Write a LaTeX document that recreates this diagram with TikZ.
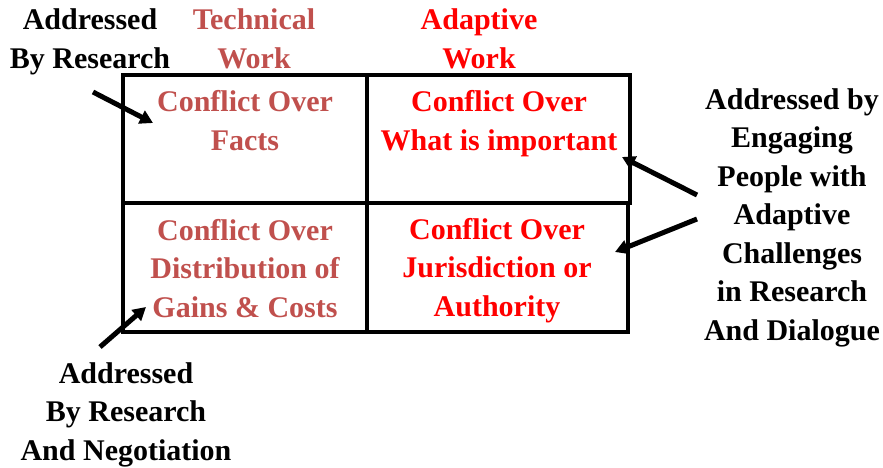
\documentclass[tikz,border=0pt]{standalone}
\usepackage{fontspec}
\setmainfont{Liberation Serif}
\usetikzlibrary{arrows.meta}
\definecolor{techred}{RGB}{192,80,77}
\definecolor{adapred}{RGB}{255,0,0}
\begin{document}
\begin{tikzpicture}[x=1pt,y=-1pt,
  lbl/.style={align=center, font=\bfseries\fontsize{30}{38.5}\selectfont, inner sep=0pt, anchor=base},
  tech/.style={lbl, text=techred},
  adap/.style={lbl, text=adapred},
  gridline/.style={line width=4pt},
  pointer/.style={line width=5pt, -{Triangle[length=13pt,width=14pt]}}]
\useasboundingbox (0,0) rectangle (883,467);
% grid
\draw[gridline] (123,75) rectangle (367,203);
\draw[gridline] (367,75) rectangle (630,203);
\draw[gridline] (123,203) rectangle (367,332);
\draw[gridline] (367,203) rectangle (628,332);
% texts (anchor = baseline of the last line)
\node[lbl] (resTL) at (90,68) {Addressed\\By Research};
\node[tech] (techW) at (254,68) {Technical\\Work};
\node[adap] (adapW) at (479,68) {Adaptive\\Work};
\node[tech] (facts) at (245,150) {Conflict Over\\Facts};
\node[adap] (important) at (499,150) {Conflict Over\\What is important};
\node[tech] (distrib) at (245,317) {Conflict Over\\Distribution of\\Gains \& Costs};
\node[adap] (jurisd) at (497,316) {Conflict Over\\Jurisdiction or\\Authority};
\node[lbl] (engage) at (792,340) {Addressed by\\Engaging\\People with\\Adaptive\\Challenges\\in Research\\And Dialogue};
\node[lbl] (negot) at (126,460) {Addressed\\By Research\\And Negotiation};
% arrows
\coordinate (a1s) at (93,92);   \coordinate (a1e) at (153,123);
\coordinate (a2s) at (100,347); \coordinate (a2e) at (146,307);
\coordinate (a3s) at (697,195); \coordinate (a3e) at (622,157);
\coordinate (a4s) at (697,219); \coordinate (a4e) at (615,252);
\draw[pointer] (a1s) -- (a1e);
\draw[pointer] (a2s) -- (a2e);
\draw[pointer] (a3s) -- (a3e);
\draw[pointer] (a4s) -- (a4e);
\end{tikzpicture}
\end{document}
